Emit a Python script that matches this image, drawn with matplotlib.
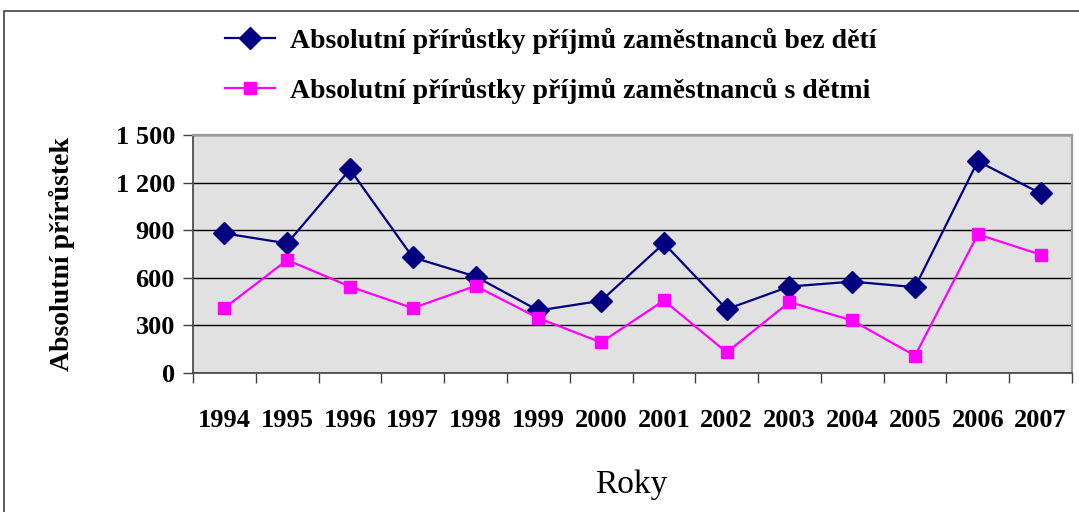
import matplotlib
matplotlib.use("Agg")
import matplotlib.pyplot as plt
from matplotlib.lines import Line2D
from matplotlib.patches import Rectangle
from matplotlib.ticker import FuncFormatter

years = ["1994", "1995", "1996", "1997", "1998", "1999", "2000",
         "2001", "2002", "2003", "2004", "2005", "2006", "2007"]
bez_deti = [880, 817, 1283, 729, 608, 394, 455, 817, 402, 545, 576, 541, 1335, 1132]
s_detmi = [409, 712, 545, 409, 549, 346, 193, 457, 130, 447, 331, 109, 874, 746]
y_ticks = [0, 300, 600, 900, 1200, 1500]

label_bez = "Absolutní přírůstky příjmů zaměstnanců bez dětí"
label_s = "Absolutní přírůstky příjmů zaměstnanců s dětmi"

FONT = "Liberation Serif"
NAVY = "#000080"
PINK = "#FF00FF"

fig = plt.figure(figsize=(10.79, 5.12), dpi=100)
fig.patch.set_facecolor("white")

# outer chart frame
fig.patches.append(Rectangle((4 / 1079, -0.1), 1.2, 1 - 11 / 512 + 0.1,
                             transform=fig.transFigure, fill=False,
                             edgecolor="#404040", linewidth=1.2))

ax = fig.add_axes([193 / 1079, 1 - 373 / 512, (1072 - 193) / 1079, (373 - 135) / 512])
ax.set_facecolor("#E1E1E1")

x = list(range(len(years)))
ax.plot(x, bez_deti, color=NAVY, linewidth=1.6, marker="D", markersize=11,
        markerfacecolor=NAVY, markeredgecolor=NAVY, label=label_bez, zorder=3)
ax.plot(x, s_detmi, color=PINK, linewidth=1.6, marker="s", markersize=8.5,
        markerfacecolor=PINK, markeredgecolor=PINK, label=label_s, zorder=3)

ax.set_xlim(-0.5, len(years) - 0.5)
ax.set_ylim(0, 1500)
ax.set_yticks(y_ticks)
ax.yaxis.set_major_formatter(FuncFormatter(lambda v, p: f"{int(v):,}".replace(",", " ")))
ax.grid(axis="y", color="black", linewidth=1.0, zorder=1)
ax.set_axisbelow(True)

# category ticks between years
ax.set_xticks([i - 0.5 for i in range(len(years) + 1)], minor=False)
ax.set_xticklabels([])
ax.set_xticks(x, minor=True)
ax.set_xticklabels(years, minor=True)
ax.tick_params(axis="x", which="major", length=7, width=1, color="#404040")
ax.tick_params(axis="x", which="minor", length=0, pad=26, labelsize=19)
ax.tick_params(axis="y", length=7, width=1, color="#404040", labelsize=19, pad=6)
for lbl in ax.get_xticklabels(minor=True) + ax.get_yticklabels():
    lbl.set_fontfamily(FONT)
    lbl.set_fontweight("bold")

for side in ["top", "right"]:
    ax.spines[side].set_color("#9A9A9A")
    ax.spines[side].set_linewidth(1.6)
ax.spines["left"].set_color("#404040")
ax.spines["left"].set_linewidth(1.2)
ax.spines["bottom"].set_color("#404040")
ax.spines["bottom"].set_linewidth(1.2)

fig.text(62 / 1079, 1 - 254 / 512, "Absolutní přírůstek", rotation=90,
         ha="center", va="center", fontfamily=FONT, fontweight="bold", fontsize=20)
fig.text(631 / 1079, 1 - 485 / 512, "Roky", ha="center", va="center",
         fontfamily=FONT, fontsize=24)

handles = [
    Line2D([], [], color=NAVY, linewidth=1.6, marker="D", markersize=11),
    Line2D([], [], color=PINK, linewidth=1.6, marker="s", markersize=8.5),
]
leg = fig.legend(handles, [label_bez, label_s], loc="center left",
                 bbox_to_anchor=(200 / 1079, 1 - 66 / 512), frameon=False,
                 handlelength=1.8, handletextpad=0.55, labelspacing=0.85,
                 prop={"family": FONT, "weight": "bold", "size": 20})

fig.savefig("out.png", dpi=100)
